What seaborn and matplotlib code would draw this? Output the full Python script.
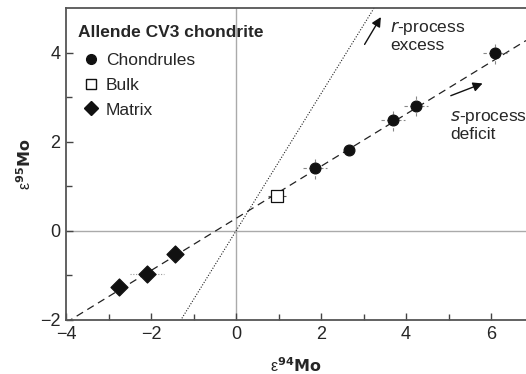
import matplotlib
matplotlib.use("Agg")
import matplotlib.pyplot as plt
import seaborn as sns
import pandas as pd
import numpy as np
from matplotlib.lines import Line2D

sns.set_theme(style="ticks")
plt.rcParams['font.family'] = ['Liberation Sans', 'DejaVu Sans']

# data
chondrule_x = [1.85, 2.66, 3.69, 4.24, 6.09]
chondrule_y = [1.41, 1.82, 2.48, 2.81, 3.98]
chondrule_xerr = [0.28, 0.0, 0.28, 0.28, 0.28]
chondrule_yerr = [0.24, 0.0, 0.24, 0.24, 0.24]
bulk_x = [0.96]
bulk_y = [0.79]
matrix_x = [-2.75, -2.09, -1.44]
matrix_y = [-1.26, -0.97, -0.51]
matrix_xerr = [0.0, 0.4, 0.0]
s_slope, s_intercept = 0.585, 0.28
r_slope, r_intercept = 1.54, 0.0
xlim = (-4, 6.82)
ylim = (-2, 5)

df = pd.DataFrame({
    "x": chondrule_x + bulk_x + matrix_x,
    "y": chondrule_y + bulk_y + matrix_y,
    "group": ["Chondrules"] * len(chondrule_x) + ["Bulk"] * len(bulk_x) + ["Matrix"] * len(matrix_x),
})

fig = plt.figure(figsize=(5.26, 3.74), dpi=100)
ax = fig.add_axes([66 / 526, 1 - 320 / 374, 460 / 526, 312 / 374])
ax.set_xlim(*xlim)
ax.set_ylim(*ylim)

# reference lines
ax.axhline(0, color="#aaaaaa", lw=1.0, zorder=0)
ax.axvline(0, color="#aaaaaa", lw=1.0, zorder=0)

xs = np.array(xlim)
ax.plot(xs, s_slope * xs + s_intercept, ls=(0, (6, 4)), color="#222222", lw=0.9, zorder=1)
ax.plot(xs, r_slope * xs + r_intercept, ls=(0, (1, 1.5)), color="#222222", lw=0.8, zorder=1)

# error bars
eb = ax.errorbar(chondrule_x, chondrule_y, xerr=chondrule_xerr, yerr=chondrule_yerr,
                 fmt="none", ecolor="#888888", elinewidth=0.8, zorder=2)
for lc in eb[2]:
    lc.set_linestyle((0, (3, 2)))
eb = ax.errorbar(matrix_x, matrix_y, xerr=matrix_xerr, fmt="none", ecolor="#999999",
                 elinewidth=0.8, zorder=2)
for lc in eb[2]:
    lc.set_linestyle((0, (1, 1.5)))
ax.errorbar(bulk_x, bulk_y, xerr=[0.22], fmt="none", ecolor="#555555", elinewidth=0.8, zorder=2)

markers = {"Chondrules": "o", "Bulk": "s", "Matrix": "D"}
sizes = {"Chondrules": 60, "Bulk": 70, "Matrix": 75}
for g, m in markers.items():
    sub = df[df.group == g]
    face = "white" if g == "Bulk" else "#111111"
    sns.scatterplot(data=sub, x="x", y="y", marker=m, s=sizes[g], color=face,
                    edgecolor="#111111", linewidth=0.9, ax=ax, zorder=3, legend=False)

# legend
handles = [
    Line2D([], [], marker="o", ls="none", color="#111111", markersize=7, label="Chondrules"),
    Line2D([], [], marker="s", ls="none", markerfacecolor="white", markeredgecolor="#111111",
           markersize=7, label="Bulk"),
    Line2D([], [], marker="D", ls="none", color="#111111", markersize=7, label="Matrix"),
]
leg = ax.legend(handles=handles, title="Allende CV3 chondrite", loc="upper left",
                frameon=False, fontsize=12.5, title_fontsize=12.5, handletextpad=0.1,
                handlelength=1.5, labelspacing=0.56, borderaxespad=0.0,
                borderpad=0.0, bbox_to_anchor=(0.026, 0.945))
leg.get_title().set_fontweight("bold")
leg._legend_box.align = "left"
leg._legend_box.sep = 9

# annotations
ax.annotate("", xy=(3.44, 4.85), xytext=(2.99, 4.13),
            arrowprops=dict(arrowstyle="-|>", color="#111111", lw=1.0, mutation_scale=14))
ax.text(3.62, 4.38, "$\\it{r}$-process\nexcess", fontsize=12.5, va="center", ha="left",
        linespacing=1.1)
ax.annotate("", xy=(5.86, 3.33), xytext=(4.99, 3.01),
            arrowprops=dict(arrowstyle="-|>", color="#111111", lw=1.0, mutation_scale=14))
ax.text(5.04, 2.36, "$\\it{s}$-process\ndeficit", fontsize=12.5, va="center", ha="left",
        linespacing=1.1)

# ticks
ax.set_xticks([-4, -2, 0, 2, 4, 6])
ax.set_xticks([-3, -1, 1, 3, 5], minor=True)
ax.set_yticks([-2, 0, 2, 4])
ax.set_yticks([-1, 1, 3], minor=True)
ax.set_xticklabels(["\u22124", "\u22122", "0", "2", "4", "6"])
ax.set_yticklabels(["\u22122", "0", "2", "4"])
ax.tick_params(which="both", direction="in", color="#444444", labelsize=13, width=1.0)
ax.tick_params(which="major", length=5, pad=4)
ax.tick_params(which="minor", length=4)

for side in ["left", "bottom", "top"]:
    ax.spines[side].set_color("#555555")
    ax.spines[side].set_linewidth(1.3)
ax.spines["right"].set_visible(False)

ax.set_xlabel("ε$^{\\mathbf{94}}$$\\mathbf{Mo}$", fontsize=11.5, labelpad=10)
ax.set_ylabel("ε$^{\\mathbf{95}}$$\\mathbf{Mo}$", fontsize=11.5, labelpad=4)

fig.savefig("out.png", dpi=100)
